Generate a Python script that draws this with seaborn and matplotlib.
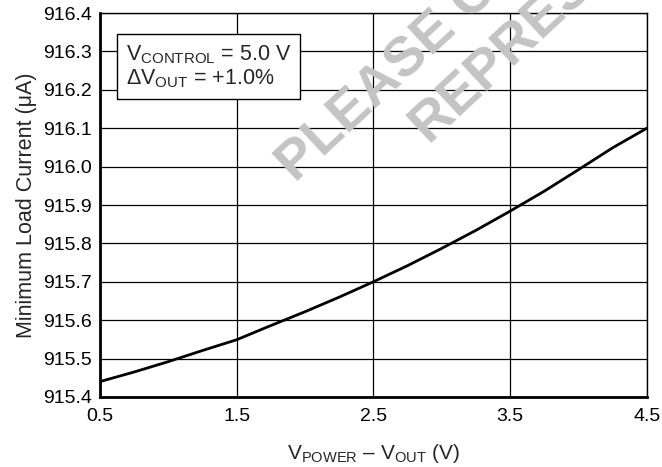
import pandas as pd
import seaborn as sns
import matplotlib.pyplot as plt

# -------------------------
# Data
# -------------------------
v_diff = [0.5, 0.75, 1.0, 1.25, 1.5, 1.75, 2.0, 2.25, 2.5,
          2.75, 3.0, 3.25, 3.5, 3.75, 4.0, 4.25, 4.5]
i_load = [915.440, 915.465, 915.492, 915.521, 915.549, 915.586, 915.622, 915.660, 915.700,
          915.742, 915.787, 915.834, 915.884, 915.936, 915.992, 916.049, 916.100]

x_ticks = [0.5, 1.5, 2.5, 3.5, 4.5]
y_ticks = [915.4, 915.5, 915.6, 915.7, 915.8, 915.9, 916.0, 916.1, 916.2, 916.3, 916.4]

df = pd.DataFrame({"v": v_diff, "i": i_load})

# -------------------------
# Style
# -------------------------
sns.set_style("white")
plt.rcParams["font.family"] = ["Liberation Sans", "DejaVu Sans"]
plt.rcParams["mathtext.fontset"] = "custom"
plt.rcParams["mathtext.rm"] = "Liberation Sans"

fig = plt.figure(figsize=(6.62, 4.67), dpi=100)
ax = fig.add_axes([0.151, 0.150, 0.826, 0.822])

# -------------------------
# Plot
# -------------------------
sns.lineplot(data=df, x="v", y="i", color="black", linewidth=2.0, ax=ax, zorder=3)

ax.set_xlim(0.5, 4.5)
ax.set_ylim(915.4, 916.4)
ax.set_xticks(x_ticks)
ax.set_yticks(y_ticks)
ax.set_xticklabels([f"{t:.1f}" for t in x_ticks])
ax.set_yticklabels([f"{t:.1f}" for t in y_ticks])
ax.tick_params(axis="both", length=0, labelsize=14, labelcolor="black")
ax.tick_params(axis="y", pad=6)
ax.tick_params(axis="x", pad=8)

ax.grid(True, color="black", linewidth=0.9)
for side in ["top", "right"]:
    ax.spines[side].set_linewidth(1.0)
for side in ["left", "bottom"]:
    ax.spines[side].set_linewidth(2.0)
for s in ax.spines.values():
    s.set_color("black")

ax.set_xlabel(r"$\mathregular{V_{POWER}}$ – $\mathregular{V_{OUT}}$ (V)", fontsize=15, labelpad=12)
ax.set_ylabel("Minimum Load Current (μA)", fontsize=15.5, labelpad=4)

ax.text(0.047, 0.922,
        "$\\mathregular{V_{CONTROL}}$ = 5.0 V\n$\\mathregular{\\Delta V_{OUT}}$ = +1.0%",
        transform=ax.transAxes, ha="left", va="top", fontsize=15.5, zorder=4,
        linespacing=1.1,
        bbox=dict(boxstyle="square,pad=0.4", facecolor="white", edgecolor="black", linewidth=1.0))

# watermark
fig.text(296 / 662, 1 - 184 / 467, "PLEASE CONTACT YOUR", rotation=43, rotation_mode="anchor",
         ha="left", va="baseline", fontsize=40, fontweight="bold", color="#c4c4c4", zorder=5)
fig.text(428 / 662, 1 - 144 / 467, "REPRESENTATIVE", rotation=43, rotation_mode="anchor",
         ha="left", va="baseline", fontsize=40, fontweight="bold", color="#c4c4c4", zorder=5)

plt.savefig("out.png", dpi=100)
